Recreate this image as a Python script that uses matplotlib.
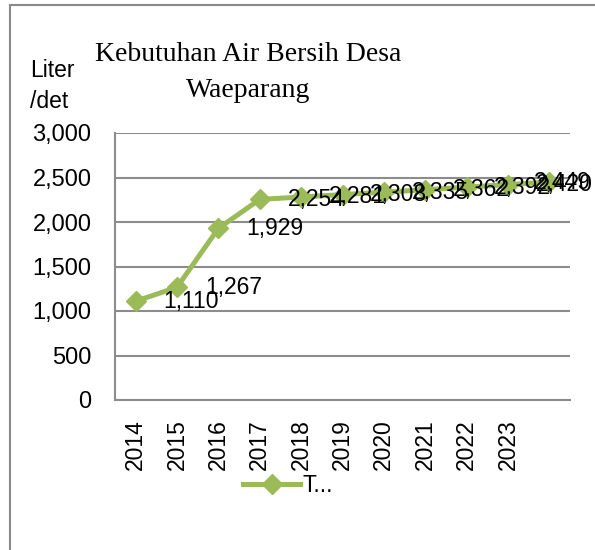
import numpy as np
from matplotlib import pyplot as plt
from matplotlib.patches import Rectangle

years = ["2014", "2015", "2016", "2017", "2018", "2019", "2020", "2021", "2022", "2023", ""]
values = [1110, 1267, 1929, 2254, 2281, 2308, 2335, 2362, 2392, 2420, 2449]
yticks = [0, 500, 1000, 1500, 2000, 2500, 3000]

green = "#9BBB59"
grid = "#8C8C8C"
sans = "Liberation Sans"
serif = "Liberation Serif"

fig = plt.figure(figsize=(5.95, 5.5), dpi=100)
ax = fig.add_axes([115/595, 150/550, 455/595, 267/550])

x = np.arange(len(values))
ax.plot(x, values, color=green, lw=3.6, marker="D", ms=10.5, label="T...")

for i, v in enumerate(values):
    # last label is pushed back inside the chart, as Excel does
    dx = 20 if i < len(values) - 1 else -11
    ax.annotate(f"{v:,}", (i, v), xytext=(dx, 0), textcoords="offset points",
                ha="left", va="center", fontsize=16.5, family=sans, color="black")

ax.set_xlim(-0.5, len(values) - 0.5)
ax.set_ylim(0, 3000)
ax.set_yticks(yticks)
ax.set_yticklabels([f"{t:,}" for t in yticks], fontsize=17, family=sans)
ax.set_xticks(x)
ax.set_xticklabels(years, rotation=90, fontsize=16.5, family=sans)
ax.tick_params(axis="y", length=0, pad=17)
ax.tick_params(axis="x", length=0, pad=14)
ax.grid(axis="y", color=grid, lw=1.5)
ax.set_axisbelow(True)
for s in ["top", "right"]:
    ax.spines[s].set_visible(False)
for s in ["left", "bottom"]:
    ax.spines[s].set_color(grid)
    ax.spines[s].set_linewidth(1.5)

fig.text(248/595, 1 - 61/550, "Kebutuhan Air Bersih Desa", ha="center", va="baseline",
         fontsize=20, family=serif)
fig.text(248/595, 1 - 97/550, "Waeparang", ha="center", va="baseline",
         fontsize=20, family=serif)
fig.text(30/595, 1 - 77/550, "Liter", ha="left", va="baseline", fontsize=16.5, family=sans)
fig.text(30/595, 1 - 108/550, "/det", ha="left", va="baseline", fontsize=16.5, family=sans)

fig.legend(loc="center", bbox_to_anchor=(288/595, 1 - 486/550), frameon=False,
           prop={"family": sans, "size": 16.5}, handlelength=2.5, handletextpad=0.1)

fig.patches.append(Rectangle((10/595, -0.05), 1.1, 1 - 5/550 + 0.05, transform=fig.transFigure,
                             fill=False, edgecolor="#8A8A8A", lw=1.5, figure=fig))

plt.savefig("out.png", dpi=100)
